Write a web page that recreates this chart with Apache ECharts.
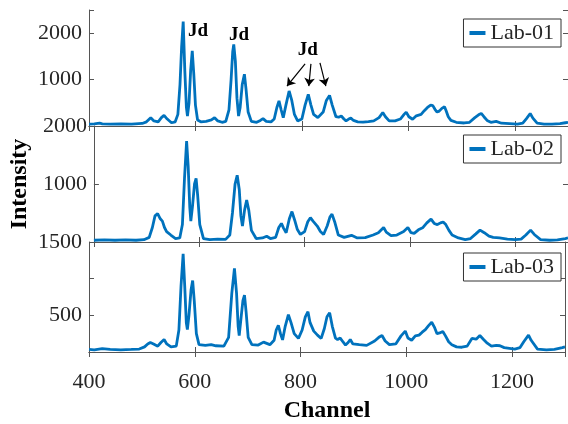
<!DOCTYPE html>
<html>
<head>
<meta charset="utf-8">
<script src="https://cdn.jsdelivr.net/npm/echarts@6/dist/echarts.min.js"></script>
<style>
  html, body { margin: 0; padding: 0; background: #fff; }
  #chart { width: 568px; height: 424px; }
</style>
</head>
<body>
<div id="chart"></div>
<script>
// spectra: [channel, intensity]
const lab01 = [[400,40],[410,45],[420,60],[425,45],[440,40],[460,45],[480,40],[500,55],[508,90],[516,180],[522,110],[530,90],[536,180],[541,230],[547,150],[555,70],[562,90],[567,250],[571,900],[574,1700],[577,2250],[580,1200],[583,400],[585,215],[588,500],[591,1200],[594,1620],[597,1100],[600,450],[604,130],[610,90],[620,100],[630,130],[636,180],[642,110],[650,80],[657,100],[663,350],[667,1000],[670,1600],[672,1760],[675,1400],[678,600],[681,215],[684,400],[688,900],[692,1115],[695,800],[699,300],[705,100],[715,80],[722,120],[727,160],[733,100],[742,90],[748,150],[753,400],[757,540],[761,350],[765,180],[770,450],[776,755],[781,550],[786,250],[792,110],[800,150],[806,450],[812,680],[817,450],[822,250],[830,180],[840,300],[846,550],[852,660],[857,450],[864,200],[869,190],[874,215],[879,150],[883,110],[888,150],[892,170],[897,120],[905,90],[915,85],[925,95],[935,110],[945,180],[952,290],[957,200],[964,110],[975,110],[985,150],[992,250],[996,300],[1001,200],[1008,145],[1015,220],[1024,250],[1030,330],[1036,400],[1042,450],[1046,440],[1050,360],[1054,300],[1058,320],[1063,380],[1068,415],[1071,330],[1075,200],[1080,120],[1090,80],[1105,65],[1115,80],[1125,180],[1132,240],[1137,270],[1142,200],[1148,120],[1155,80],[1165,100],[1175,60],[1190,50],[1205,40],[1215,60],[1222,160],[1229,270],[1234,170],[1242,60],[1255,40],[1270,40],[1285,50],[1295,70],[1300,80]];

const lab02 = [[400,30],[420,35],[440,30],[460,35],[480,30],[495,40],[505,80],[511,250],[516,450],[521,490],[526,400],[530,360],[534,250],[538,180],[541,175],[546,120],[555,60],[563,70],[568,300],[572,1100],[576,1740],[579,1300],[582,600],[584,360],[587,600],[591,1000],[594,1095],[597,800],[601,300],[608,60],[620,40],[635,50],[650,45],[658,120],[663,500],[668,1000],[672,1150],[676,900],[679,450],[682,275],[686,550],[690,725],[694,550],[699,200],[708,60],[720,70],[728,100],[735,60],[745,80],[751,250],[756,320],[760,240],[765,160],[771,400],[776,525],[781,380],[786,220],[792,130],[800,180],[806,350],[811,420],[816,360],[824,275],[830,180],[836,130],[843,280],[848,430],[852,480],[857,350],[864,120],[875,80],[889,115],[900,70],[915,75],[930,120],[940,160],[950,250],[955,170],[964,110],[975,120],[988,180],[996,250],[1002,160],[1008,150],[1016,210],[1024,245],[1032,330],[1040,395],[1046,320],[1052,300],[1058,330],[1063,345],[1068,300],[1074,200],[1080,120],[1092,70],[1105,40],[1115,60],[1125,140],[1133,205],[1141,160],[1150,100],[1158,80],[1170,70],[1185,50],[1200,40],[1211,50],[1220,120],[1229,205],[1236,130],[1248,40],[1265,30],[1280,35],[1295,60],[1300,70]];

const lab03 = [[400,35],[410,30],[425,45],[440,35],[460,30],[480,35],[495,40],[505,70],[511,110],[516,130],[522,110],[530,80],[536,130],[542,170],[547,110],[555,70],[565,80],[570,300],[574,900],[578,1340],[581,900],[584,400],[586,305],[589,500],[593,850],[596,975],[599,700],[603,250],[608,100],[620,90],[631,100],[640,85],[655,80],[664,200],[670,800],[675,1140],[679,800],[682,350],[684,225],[688,500],[691,700],[694,775],[697,550],[701,200],[708,100],[720,95],[730,135],[742,100],[750,160],[754,300],[758,365],[762,250],[766,165],[771,350],[777,510],[782,400],[788,250],[796,185],[803,300],[809,480],[814,550],[818,400],[825,285],[832,230],[839,185],[845,320],[850,480],[855,535],[860,350],[866,190],[870,170],[875,190],[880,140],[885,95],[890,130],[894,170],[899,110],[911,100],[925,90],[940,150],[948,200],[954,225],[960,150],[968,100],[980,110],[990,220],[998,285],[1003,190],[1010,160],[1017,220],[1024,230],[1030,270],[1036,305],[1042,360],[1048,405],[1053,340],[1058,250],[1063,260],[1069,280],[1074,220],[1080,140],[1086,100],[1095,70],[1105,65],[1115,80],[1124,185],[1132,175],[1139,225],[1146,170],[1153,120],[1161,80],[1170,90],[1177,85],[1185,60],[1205,40],[1215,60],[1222,140],[1231,230],[1236,160],[1248,40],[1265,30],[1280,35],[1295,60],[1300,70]];

const seriesNames = ['Lab-01', 'Lab-02', 'Lab-03'];

// y-axis range and the tick labels that are printed for each panel
const yMax = [2500, 2000, 1500];
const yStep = [1000, 1000, 500];
const yLabels = [[1000, 2000], [1000, 2000], [500, 1500]];
const xLabels = [400, 600, 800, 1000, 1200];

// "Jd" annotations on the first panel (data coords)
const jdText = [[605, 2045], [682, 1960], [811, 1640]];
const jdArrows = [
  [[806, 1340], [772, 860]],
  [[817, 1340], [813, 860]],
  [[834, 1360], [845, 860]]
];

const font = 'Liberation Serif, Times New Roman, serif';
const ink = '#262626';
const frame = '#555';
const blue = '#0072BD';

let myChart = echarts.init(document.getElementById('chart'));

const grids = [
  { left: 89, right: 0, top: 10, height: 116 },
  { left: 89, right: 0, top: 126, height: 116 },
  { left: 89, right: 0, top: 242, height: 123 }
];

let xAxes = [];
let yAxes = [];
for (let i = 0; i < 3; i++) {
  xAxes.push({
    type: 'value', gridIndex: i, min: 400, max: 1300, interval: 200,
    position: 'bottom',
    axisLine: { show: true, lineStyle: { color: frame, width: 1 } },
    axisTick: { show: true, inside: true, length: 5, lineStyle: { color: frame } },
    splitLine: { show: false },
    axisLabel: {
      show: i === 2, margin: 19, fontFamily: font, fontSize: 22, color: ink,
      formatter: v => xLabels.indexOf(v) >= 0 ? String(v) : ''
    },
    name: i === 2 ? 'Channel' : '',
    nameLocation: 'middle', nameGap: 47,
    nameTextStyle: { fontFamily: font, fontSize: 24, fontWeight: 'bold', color: '#000' }
  });
  xAxes.push({
    type: 'value', gridIndex: i, min: 400, max: 1300, interval: 200,
    position: 'top',
    axisLine: { show: true, lineStyle: { color: frame, width: 1 } },
    axisTick: { show: true, inside: true, length: 5, lineStyle: { color: frame } },
    splitLine: { show: false },
    axisLabel: { show: false }
  });
  yAxes.push({
    type: 'value', gridIndex: i, min: 0, max: yMax[i], interval: yStep[i],
    position: 'left',
    axisLine: { show: true, lineStyle: { color: frame, width: 1 } },
    axisTick: { show: true, inside: true, length: 5, lineStyle: { color: frame } },
    splitLine: { show: false },
    axisLabel: {
      margin: 7, fontFamily: font, fontSize: 22, color: ink,
      formatter: v => yLabels[i].indexOf(v) >= 0 ? String(v) : ''
    },
    name: i === 1 ? 'Intensity' : '',
    nameLocation: 'middle', nameGap: 55, nameRotate: 90,
    nameTextStyle: { fontFamily: font, fontSize: 24, fontWeight: 'bold', color: '#000' }
  });
  yAxes.push({
    type: 'value', gridIndex: i, min: 0, max: yMax[i], interval: yStep[i],
    position: 'right',
    axisLine: { show: true, lineStyle: { color: frame, width: 1 } },
    axisTick: { show: true, inside: true, length: 5, lineStyle: { color: frame } },
    splitLine: { show: false },
    axisLabel: { show: false }
  });
}

const allData = [lab01, lab02, lab03];
let series = allData.map((d, i) => ({
  name: seriesNames[i],
  type: 'line',
  xAxisIndex: i * 2,
  yAxisIndex: i * 2,
  data: d,
  showSymbol: false,
  symbol: 'none',
  lineStyle: { color: blue, width: 2.8 },
  itemStyle: { color: blue },
  animation: false
}));

series[0].markPoint = {
  silent: true,
  symbol: 'rect',
  symbolSize: 1,
  itemStyle: { color: 'rgba(0,0,0,0)' },
  label: {
    show: true, position: 'inside', formatter: 'Jd',
    fontFamily: font, fontSize: 19, fontWeight: 'bold', color: '#000'
  },
  data: jdText.map(c => ({ coord: c }))
};
series[0].markLine = {
  silent: true,
  symbol: ['none', 'arrow'],
  symbolSize: 8,
  label: { show: false },
  lineStyle: { color: '#000', width: 1.2, type: 'solid' },
  data: jdArrows.map(a => [{ coord: a[0] }, { coord: a[1] }])
};

const legendTops = [19, 135, 253];
let legends = seriesNames.map((n, i) => ({
  data: [n],
  right: 7,
  top: legendTops[i],
  orient: 'vertical',
  backgroundColor: '#fff',
  borderColor: '#333',
  borderWidth: 1,
  borderRadius: 0,
  padding: [3, 7, 3, 6],
  icon: 'rect',
  itemWidth: 16,
  itemHeight: 4,
  textStyle: { fontFamily: font, fontSize: 22, color: ink, lineHeight: 22 }
}));

myChart.setOption({
  backgroundColor: '#fff',
  animation: false,
  grid: grids,
  xAxis: xAxes,
  yAxis: yAxes,
  legend: legends,
  series: series
});

window.addEventListener('resize', function() {
  myChart.resize();
});
</script>
</body>
</html>
